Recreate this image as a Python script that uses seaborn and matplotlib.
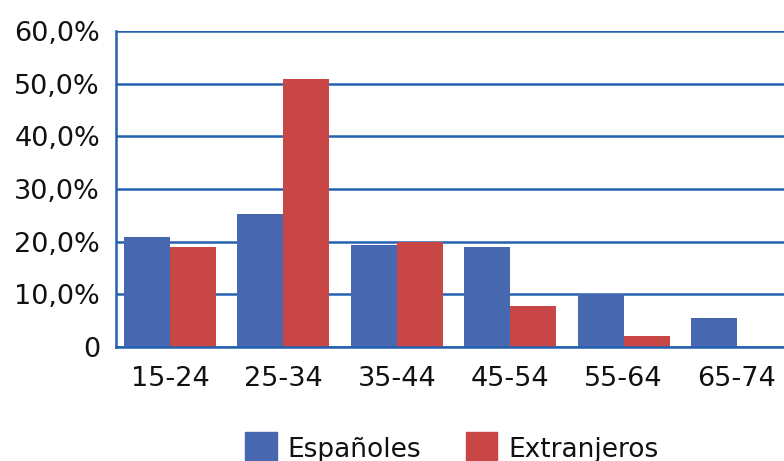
import pandas as pd
import numpy as np
import seaborn as sns
import matplotlib.pyplot as plt
from matplotlib.ticker import FuncFormatter
from matplotlib.patches import Patch

# valores (%)
grupos_edad = ['15-24', '25-34', '35-44', '45-54', '55-64', '65-74']
espanoles = [20.8, 25.3, 19.3, 18.9, 10.0, 5.6]
extranjeros = [19.0, 50.8, 20.0, 7.8, 2.1, 0.0]
series = ['Españoles', 'Extranjeros']
colores = ['#4768B0', '#C84646']
ticks_y = [0, 10, 20, 30, 40, 50, 60]

df = pd.DataFrame({
    'edad': grupos_edad * 2,
    'valor': espanoles + extranjeros,
    'origen': [series[0]] * len(grupos_edad) + [series[1]] * len(grupos_edad)
})

sns.set_style('white')
plt.rcParams['font.family'] = ['DejaVu Sans']

fig = plt.figure(figsize=(7.84, 4.61), dpi=100)
# el area del grafico sigue mas alla del borde derecho (imagen recortada)
ax = fig.add_axes([116 / 784, 114 / 461, 668 / 784, 316 / 461])

sns.barplot(data=df, x='edad', y='valor', hue='origen', palette=colores,
            width=0.81, saturation=1, linewidth=0, ax=ax, legend=False)

azul = '#2560AE'
ax.set_ylim(0, 60)
ax.set_xlim(-0.476, 5.414)
ax.set_yticks(ticks_y)
ax.yaxis.set_major_formatter(FuncFormatter(
    lambda v, p: '0' if v == 0 else f'{v:.1f}%'.replace('.', ',')))
ax.set_axisbelow(True)
ax.grid(axis='y', color=azul, linewidth=1.8)
for lado in ['top', 'right']:
    ax.spines[lado].set_visible(False)
for lado in ['left', 'bottom']:
    ax.spines[lado].set_color(azul)
    ax.spines[lado].set_linewidth(1.8)
ax.tick_params(axis='y', length=0, pad=11.5, labelsize=19.5, labelcolor='#111111')
ax.tick_params(axis='x', length=0, pad=14, labelsize=19.5, labelcolor='#111111')
ax.set_xlabel('')
ax.set_ylabel('')

handles = [Patch(color=c, label=s) for c, s in zip(colores, series)]
fig.legend(handles=handles, loc='upper left', bbox_to_anchor=(245 / 784, 1 - 432 / 461),
           ncol=2, frameon=False, fontsize=19, handlelength=1.2, handleheight=1.55,
           handletextpad=0.4, columnspacing=1.7, borderpad=0, borderaxespad=0,
           labelcolor='#111111')

fig.savefig('out.png', dpi=100)
